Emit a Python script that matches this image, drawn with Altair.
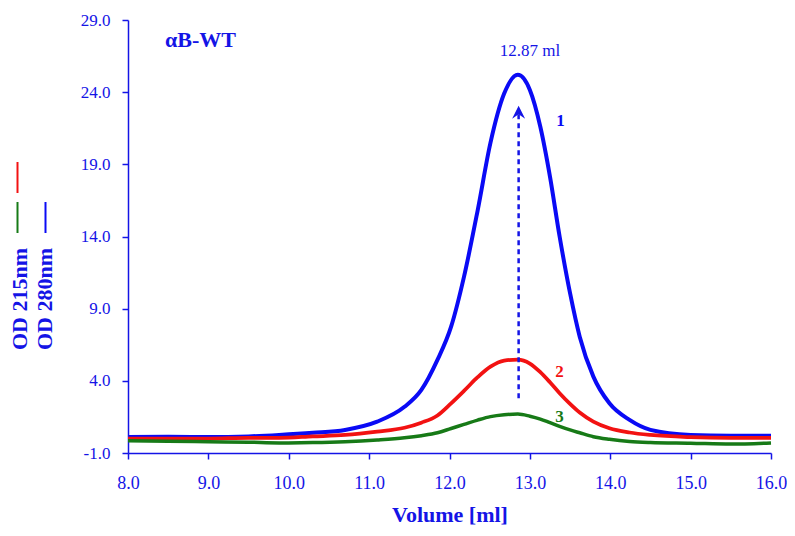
import altair as alt
import pandas as pd

volume = [8.0, 8.5, 9.0, 9.5, 9.88, 10.3, 10.7, 11.1, 11.44, 11.65, 11.85, 12.02, 12.18, 12.35,
          12.51, 12.68, 12.85, 13.0, 13.13, 13.25, 13.37, 13.5, 13.62, 13.79, 13.99, 14.24, 14.5,
          15.0, 15.5, 16.0]
od280_1 = [0.1, 0.12, 0.1, 0.15, 0.25, 0.4, 0.6, 1.17, 2.2, 3.37, 5.45, 7.75, 11.2, 15.8,
           20.5, 23.9, 25.2, 24.15, 21.6, 18.15, 14.0, 10.07, 7.06, 4.29, 2.44, 1.29, 0.6,
           0.25, 0.2, 0.2]
od215_2 = [0.0, 0.0, 0.0, 0.05, 0.05, 0.15, 0.25, 0.48, 0.75, 1.1, 1.6, 2.44, 3.3, 4.25,
           4.98, 5.4, 5.47, 5.2, 4.6, 3.9, 3.14, 2.4, 1.8, 1.17, 0.71, 0.42, 0.25,
           0.1, 0.05, 0.05]
od_3 = [-0.15, -0.18, -0.22, -0.25, -0.3, -0.28, -0.22, -0.1, 0.05, 0.2, 0.4, 0.7, 0.98, 1.28,
        1.52, 1.65, 1.7, 1.55, 1.35, 1.1, 0.85, 0.6, 0.4, 0.13, -0.05, -0.2, -0.27,
        -0.32, -0.38, -0.3]

series_names = ["1", "2", "3"]
series_colors = ["#0a0af5", "#f21212", "#177a17"]
series_widths = [4.0, 3.5, 3.5]
x_ticks = [8, 9, 10, 11, 12, 13, 14, 15, 16]
y_ticks = [-1, 4, 9, 14, 19, 24, 29]
peak_volume = 12.86
peak_label = "12.87 ml"

BLUE = "#1414e6"
FONT = "Liberation Serif"

rows = []
for name, vals in zip(series_names, [od280_1, od215_2, od_3]):
    for v, y in zip(volume, vals):
        rows.append({"series": name, "volume": v, "od": y})
df = pd.DataFrame(rows)

xscale = alt.Scale(domain=[8, 16], nice=False, zero=False)
yscale = alt.Scale(domain=[-1, 29], nice=False, zero=False)

xaxis = alt.Axis(values=x_ticks, format=".1f", title="Volume [ml]", grid=False,
                 domainColor=BLUE, tickColor=BLUE, labelColor=BLUE, titleColor=BLUE,
                 labelFont=FONT, titleFont=FONT, labelFontSize=18, titleFontSize=22,
                 titleFontWeight="bold", tickSize=6, domainWidth=1.5, tickWidth=1.5,
                 labelPadding=15, titlePadding=12, labelFlush=False)
yaxis = alt.Axis(values=y_ticks, title="", grid=False,
                 labelExpr="datum.value < 0 ? '-' + format(abs(datum.value), '.1f') : format(datum.value, '.1f')",
                 domainColor=BLUE, tickColor=BLUE, labelColor=BLUE,
                 labelFont=FONT, labelFontSize=17, tickSize=6, domainWidth=1.5,
                 tickWidth=1.5, labelPadding=12, labelFlush=False)

lines = alt.Chart(df).mark_line(interpolate="monotone").encode(
    x=alt.X("volume:Q", scale=xscale, axis=xaxis),
    y=alt.Y("od:Q", scale=yscale, axis=yaxis),
    color=alt.Color("series:N", scale=alt.Scale(domain=series_names, range=series_colors), legend=None),
    strokeWidth=alt.StrokeWidth("series:N", scale=alt.Scale(domain=series_names, range=series_widths), legend=None),
    detail="series:N",
)

arrow_df = pd.DataFrame({"x": [peak_volume], "y0": [2.8], "y1": [22.6]})
arrow = alt.Chart(arrow_df).mark_rule(color=BLUE, strokeWidth=2.5, strokeDash=[5, 4]).encode(
    x=alt.X("x:Q", scale=xscale), y=alt.Y("y0:Q", scale=yscale), y2="y1:Q")
head = alt.Chart(arrow_df).mark_point(
    shape="M -0.65 0.65 L 0 -0.65 L 0.65 0.65 L 0 0.2 Z", filled=True, color=BLUE, size=400, opacity=1
).encode(x=alt.X("x:Q", scale=xscale), y=alt.Y("y1:Q", scale=yscale))

ann_df = pd.DataFrame({
    "x": [8.46, 13.0, 13.38, 13.37, 13.37],
    "y": [27.6, 26.86, 22.0, 4.58, 1.49],
    "t": ["αB-WT", peak_label, "1", "2", "3"],
    "c": [BLUE, BLUE, series_colors[0], series_colors[1], series_colors[2]],
    "w": ["bold", "normal", "bold", "bold", "bold"],
    "s": [22, 17, 17, 17, 17],
    "a": ["left", "center", "center", "center", "center"],
})
ann_layers = []
for _, r in ann_df.iterrows():
    ann_layers.append(
        alt.Chart(pd.DataFrame([r])).mark_text(
            font=FONT, fontSize=int(r["s"]), fontWeight=r["w"], color=r["c"],
            align=r["a"], baseline="middle"
        ).encode(x=alt.X("x:Q", scale=xscale), y=alt.Y("y:Q", scale=yscale), text="t:N")
    )

ytitle_layers = []
for txt, xp in [("OD 215nm", -108), ("OD 280nm", -83)]:
    ytitle_layers.append(
        alt.Chart(pd.DataFrame({"t": [txt]})).mark_text(
            font=FONT, fontSize=22, fontWeight="bold", color=BLUE, angle=270,
            align="center", baseline="middle"
        ).encode(x=alt.value(xp), y=alt.value(279), text="t:N")
    )
marker_layers = []
for xp, y0, y1, col in [(-110.5, 142, 173, series_colors[1]), (-110.5, 182, 213, series_colors[2]),
                        (-82.5, 182, 213, series_colors[0])]:
    marker_layers.append(
        alt.Chart(pd.DataFrame({"c": [col]})).mark_rule(color=col, strokeWidth=2).encode(
            x=alt.value(xp), y=alt.value(y0), y2=alt.value(y1))
    )

chart = alt.layer(lines, arrow, head, *ann_layers, *ytitle_layers, *marker_layers).properties(
    width=643, height=433,
    autosize=alt.AutoSizeParams(type="none"),
    padding={"left": 120, "top": 12, "right": 16, "bottom": 74},
).configure(background="white").configure_view(stroke=None)

chart.save("out.html", embed_options={"renderer": "svg", "actions": False})
